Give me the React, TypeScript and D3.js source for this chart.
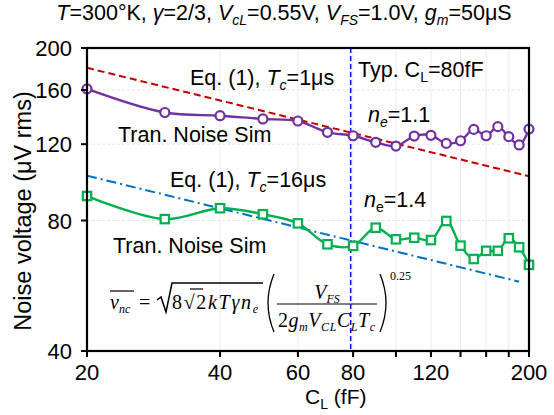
import React from "react";
import * as d3 from "d3";

const xValues = [20, 30, 40, 50, 60, 70, 80, 90, 100, 110, 120, 130, 140, 150, 160, 170, 180, 190, 200];
const simLowCap = [161, 142, 139.6, 137.2, 135.7, 127.8, 125.5, 121.2, 118.8, 125.3, 125.8, 120.5, 122.2, 129.8, 125.5, 131.7, 124.9, 119.5, 130];
const simHighTc = [91.1, 80.6, 85.4, 82.7, 78.8, 70.5, 69.9, 77, 72.4, 73, 72.1, 79.8, 70, 65.2, 68.1, 68.1, 72.8, 69.4, 63.2];
const eq1usX = [20, 200];
const eq1usY = [180, 101.2];
const eq16usX = [20, 190];
const eq16usY = [101.5, 57.8];
const typicalCL = 79;
const xTicks = [20, 40, 60, 80, 100, 120, 140, 160, 180, 200];
const xTickLabels = [20, 40, 60, 80, 120, 200];
const yTicks = [40, 80, 120, 160, 200];
const yGrid = [80, 120, 160];

const W = 554, H = 415;
const m = { left: 87, right: 25, top: 48, bottom: 64 };

export default function App() {
  const x = d3.scaleLog().domain([20, 200]).range([m.left, W - m.right]);
  const y = d3.scaleLog().domain([40, 200]).range([H - m.bottom, m.top]);
  const sans = "'Liberation Sans', Arial, sans-serif";
  const serif = "'Liberation Serif', 'Times New Roman', serif";

  const smooth = d3.line<number>()
    .x((_, i) => x(xValues[i]))
    .y((d) => y(d))
    .curve(d3.curveCatmullRom.alpha(0.5));
  const straight = (xs: number[]) => d3.line<number>().x((_, i) => x(xs[i])).y((d) => y(d));

  const purple = "#7030A0", green = "#00B050", red = "#C00000", blue = "#0070C0";
  const x0 = m.left, x1 = W - m.right, yTop = m.top, yBot = H - m.bottom;
  const fs = 21.5, sub = 14, sd = 5;

  return (
    <svg width={W} height={H} style={{ position: "absolute", left: 0, top: 0, background: "#fff" }}>
      <rect x={0} y={0} width={W} height={H} fill="#fff" />
      {/* gridlines */}
      {xTicks.slice(1, -1).map((t) => (
        <line key={"gx" + t} x1={x(t)} x2={x(t)} y1={yTop} y2={yBot} stroke="#ebebeb" strokeWidth={1} />
      ))}
      {yGrid.map((t) => (
        <line key={"gy" + t} x1={x0} x2={x1} y1={y(t)} y2={y(t)} stroke="#e6e6e6" strokeWidth={1} strokeDasharray="3,2" />
      ))}

      {/* model lines */}
      <path d={straight(eq1usX)(eq1usY) || ""} fill="none" stroke={red} strokeWidth={2} strokeDasharray="7,4" />
      <path d={straight(eq16usX)(eq16usY) || ""} fill="none" stroke={blue} strokeWidth={2} strokeDasharray="10,4,2,4" />

      {/* typical CL */}
      <line x1={x(typicalCL)} x2={x(typicalCL)} y1={yTop} y2={yBot} stroke="#0000FF" strokeWidth={1.5} strokeDasharray="5,3" />

      {/* sim series */}
      <path d={smooth(simLowCap) || ""} fill="none" stroke={purple} strokeWidth={2.4} />
      {simLowCap.map((v, i) => (
        <circle key={"c" + i} cx={x(xValues[i])} cy={y(v)} r={4.5} fill="#fff" stroke={purple} strokeWidth={2.2} />
      ))}
      <path d={smooth(simHighTc) || ""} fill="none" stroke={green} strokeWidth={2.4} />
      {simHighTc.map((v, i) => (
        <rect key={"s" + i} x={x(xValues[i]) - 4.2} y={y(v) - 4.2} width={8.4} height={8.4} fill="#fff" stroke={green} strokeWidth={2.2} />
      ))}

      {/* frame */}
      <rect x={x0} y={yTop} width={x1 - x0} height={yBot - yTop} fill="none" stroke="#000" strokeWidth={2.2} />
      {xTicks.map((t) => (
        <line key={"tx" + t} x1={x(t)} x2={x(t)} y1={yBot} y2={yBot + 6} stroke="#000" strokeWidth={2} />
      ))}
      {yTicks.map((t) => (
        <line key={"ty" + t} x1={x0 - 6} x2={x0} y1={y(t)} y2={y(t)} stroke="#000" strokeWidth={2} />
      ))}
      {xTickLabels.map((t) => (
        <text key={"lx" + t} x={x(t)} y={380} textAnchor="middle" fontFamily={sans} fontSize={22} fill="#000">{t}</text>
      ))}
      {yTicks.map((t) => (
        <text key={"ly" + t} x={72} y={y(t) + 8} textAnchor="end" fontFamily={sans} fontSize={22} fill="#000">{t}</text>
      ))}

      {/* axis titles */}
      <text x={305} y={404} fontFamily={sans} fontSize={21} fill="#000">
        C<tspan fontSize={sub} dy={sd}>L</tspan><tspan dy={-sd}> (fF)</tspan>
      </text>
      <text transform={`translate(31,211) rotate(-90)`} textAnchor="middle" fontFamily={sans} fontSize={23.5} fill="#000">
        Noise voltage (μV rms)
      </text>

      {/* title */}
      <text x={284} y={20} textAnchor="middle" fontFamily={sans} fontSize={21.5} fill="#000">
        <tspan fontStyle="italic">T</tspan>=300°K, <tspan fontStyle="italic">γ</tspan>=2/3, <tspan fontStyle="italic">V</tspan><tspan fontStyle="italic" fontSize={sub} dy={sd}>cL</tspan><tspan dy={-sd}>=0.55V, </tspan><tspan fontStyle="italic">V</tspan><tspan fontStyle="italic" fontSize={sub} dy={sd}>FS</tspan><tspan dy={-sd}>=1.0V, </tspan><tspan fontStyle="italic">g</tspan><tspan fontStyle="italic" fontSize={sub} dy={sd}>m</tspan><tspan dy={-sd}>=50μS</tspan>
      </text>

      {/* annotations */}
      <text x={190} y={85} fontFamily={sans} fontSize={fs} fill="#000">
        Eq. (1), <tspan fontStyle="italic">T</tspan><tspan fontStyle="italic" fontSize={sub} dy={sd}>c</tspan><tspan dy={-sd}>=1μs</tspan>
      </text>
      <text x={358} y={77} fontFamily={sans} fontSize={fs} fill="#000">
        Typ. C<tspan fontSize={sub} dy={sd}>L</tspan><tspan dy={-sd}>=80fF</tspan>
      </text>
      <text x={368} y={122} fontFamily={sans} fontSize={fs} fill="#000">
        <tspan fontStyle="italic">n</tspan><tspan fontStyle="italic" fontSize={sub} dy={sd}>e</tspan><tspan dy={-sd}>=1.1</tspan>
      </text>
      <text x={118} y={142} fontFamily={sans} fontSize={fs} fill="#000">Tran. Noise Sim</text>
      <text x={170} y={187} fontFamily={sans} fontSize={fs} fill="#000">
        Eq. (1), <tspan fontStyle="italic">T</tspan><tspan fontStyle="italic" fontSize={sub} dy={sd}>c</tspan><tspan dy={-sd}>=16μs</tspan>
      </text>
      <text x={364} y={207} fontFamily={sans} fontSize={fs} fill="#000">
        <tspan fontStyle="italic">n</tspan><tspan fontSize={sub} dy={sd}>e</tspan><tspan dy={-sd}>=1.4</tspan>
      </text>
      <text x={113} y={253} fontFamily={sans} fontSize={fs} fill="#000">Tran. Noise Sim</text>

      {/* formula */}
      <g fontFamily={serif} fill="#000">
        <text x={110} y={309} fontSize={20} fontStyle="italic">v<tspan fontSize={12} dy={4}>nc</tspan></text>
        <line x1={110} x2={134} y1={291} y2={291} stroke="#000" strokeWidth={1.2} />
        <text x={139} y={309} fontSize={20}>=</text>
        <path d="M157,300 L161,297 L166,312 L172,283 L263,283" fill="none" stroke="#000" strokeWidth={1.5} />
        <text x={172} y={309} fontSize={20} textLength={86}>
          8<tspan>√</tspan>2<tspan fontStyle="italic">kT</tspan><tspan fontStyle="italic">γn</tspan><tspan fontStyle="italic" fontSize={12} dy={4}>e</tspan>
        </text>
        <line x1={190} x2={203} y1={289} y2={289} stroke="#000" strokeWidth={1.2} />
        <path d="M274,274 Q262,303 274,332" fill="none" stroke="#000" strokeWidth={1.3} />
        <text x={327} y={299} fontSize={20} fontStyle="italic" textAnchor="middle">V<tspan fontSize={12} dy={4}>FS</tspan></text>
        <line x1={277} x2={377} y1={304} y2={304} stroke="#000" strokeWidth={1.2} />
        <text x={278} y={327} fontSize={20} textLength={97}>
          2<tspan fontStyle="italic">g</tspan><tspan fontStyle="italic" fontSize={12} dy={4}>m</tspan><tspan fontStyle="italic" dy={-4}>V</tspan><tspan fontStyle="italic" fontSize={12} dy={4}>CL</tspan><tspan fontStyle="italic" dy={-4}>C</tspan><tspan fontStyle="italic" fontSize={12} dy={4}>L</tspan><tspan fontStyle="italic" dy={-4}>T</tspan><tspan fontStyle="italic" fontSize={12} dy={4}>c</tspan>
        </text>
        <path d="M380,274 Q392,303 380,332" fill="none" stroke="#000" strokeWidth={1.3} />
        <text x={390} y={280} fontSize={12}>0.25</text>
      </g>
    </svg>
  );
}
